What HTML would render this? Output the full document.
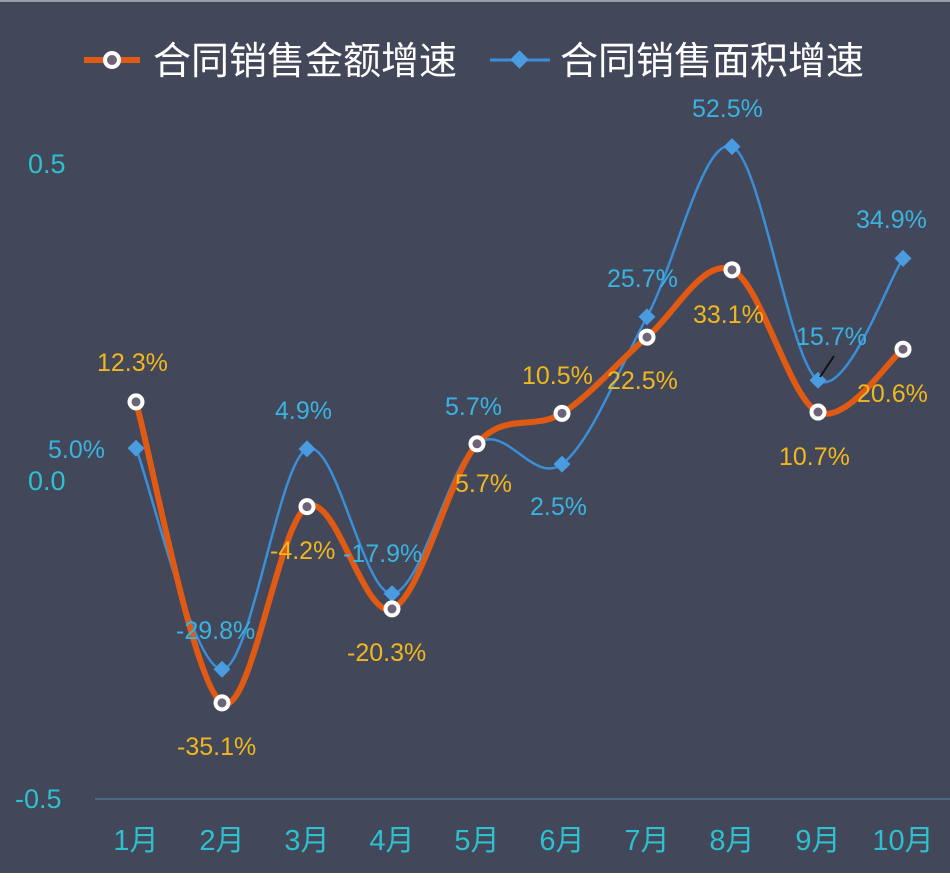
<!DOCTYPE html>
<html><head><meta charset="utf-8"><style>
body{margin:0;background:#fff;}
svg{display:block}
</style></head><body>
<svg id="s" width="950" height="892" xmlns="http://www.w3.org/2000/svg" font-family="'Liberation Sans','Noto Sans CJK SC',sans-serif">
<rect x="0" y="0" width="950" height="873" fill="#424759"/>
<rect x="0" y="0" width="950" height="2" fill="#9a9ca6"/>
<line x1="95" y1="799" x2="950" y2="799" stroke="#4f7e96" stroke-width="1.2"/>
<g fill="#2fc0cf" font-size="27">
<text x="28" y="173">0.5</text>
<text x="28" y="490">0.0</text>
<text x="15" y="808">-0.5</text>
</g>
<g fill="#2fc0cf" font-size="29" text-anchor="middle">
<text x="136" y="850">1月</text><text x="222" y="850">2月</text><text x="307" y="850">3月</text><text x="392" y="850">4月</text><text x="477" y="850">5月</text><text x="562" y="850">6月</text><text x="647" y="850">7月</text><text x="732" y="850">8月</text><text x="818" y="850">9月</text><text x="903" y="850">10月</text>
</g>
<!-- legend -->
<line x1="84" y1="60" x2="140" y2="60" stroke="#e05a14" stroke-width="6"/>
<circle cx="112" cy="60" r="7" fill="#6b6478" stroke="#fff" stroke-width="4"/>
<text x="153" y="74" fill="#fff" font-size="38">合同销售金额增速</text>
<line x1="490" y1="60" x2="550" y2="60" stroke="#3a8fd8" stroke-width="3"/>
<rect x="513" y="53" width="13" height="13" fill="#4a9be0" transform="rotate(45 519.5 59.5)"/>
<text x="560" y="74" fill="#fff" font-size="38">合同销售面积增速</text>
<path id="bl" fill="none" stroke="#3a8fd8" stroke-width="2.5"/>
<path id="or" fill="none" stroke="#e05a14" stroke-width="6"/>
<g id="mk"></g>
<line x1="820" y1="377" x2="834" y2="356" stroke="#111" stroke-width="2"/>
<g fill="#3bb3e0" font-size="25">
<text x="48" y="458">5.0%</text>
<text x="176" y="639">-29.8%</text>
<text x="275" y="419">4.9%</text>
<text x="343" y="562">-17.9%</text>
<text x="445" y="415">5.7%</text>
<text x="530" y="515">2.5%</text>
<text x="607" y="287">25.7%</text>
<text x="692" y="117">52.5%</text>
<text x="796" y="345">15.7%</text>
<text x="856" y="228">34.9%</text>
</g>
<g fill="#f0b81e" font-size="25">
<text x="97" y="371">12.3%</text>
<text x="177" y="755">-35.1%</text>
<text x="270" y="559">-4.2%</text>
<text x="347" y="661">-20.3%</text>
<text x="455" y="492">5.7%</text>
<text x="522" y="384">10.5%</text>
<text x="607" y="389">22.5%</text>
<text x="693" y="323">33.1%</text>
<text x="779" y="465">10.7%</text>
<text x="857" y="402">20.6%</text>
</g>
</svg>
<script>
var xs=[136,222,307,392,477,562,647,732,818,903];
function y(v){return 480-v*635;}
var o=[.123,-.351,-.042,-.203,.057,.105,.225,.331,.107,.206];
var b=[.05,-.298,.049,-.179,.057,.025,.257,.525,.157,.349];
function path(vs){var p=xs.map(function(x,i){return [x,y(vs[i])]});var d="M"+p[0][0]+","+p[0][1];
for(var i=0;i<p.length-1;i++){var p0=p[i-1]||p[i],p1=p[i],p2=p[i+1],p3=p[i+2]||p2;var t=0.5/3*1.0;
var c1=[p1[0]+(p2[0]-p0[0])*t,p1[1]+(p2[1]-p0[1])*t],c2=[p2[0]-(p3[0]-p1[0])*t,p2[1]-(p3[1]-p1[1])*t];
d+=" C"+c1+" "+c2+" "+p2;}return d;}
document.getElementById('bl').setAttribute('d',path(b));
document.getElementById('or').setAttribute('d',path(o));
var g=document.getElementById('mk'),h="";
xs.forEach(function(x,i){var yy=y(b[i]);h+='<rect x="'+(x-6)+'" y="'+(yy-6)+'" width="12" height="12" fill="#4a9be0" transform="rotate(45 '+x+' '+yy+')"/>';});
xs.forEach(function(x,i){h+='<circle cx="'+x+'" cy="'+y(o[i])+'" r="6.5" fill="#6b6478" stroke="#fff" stroke-width="4"/>';});
g.innerHTML=h;
</script>
</body></html>
